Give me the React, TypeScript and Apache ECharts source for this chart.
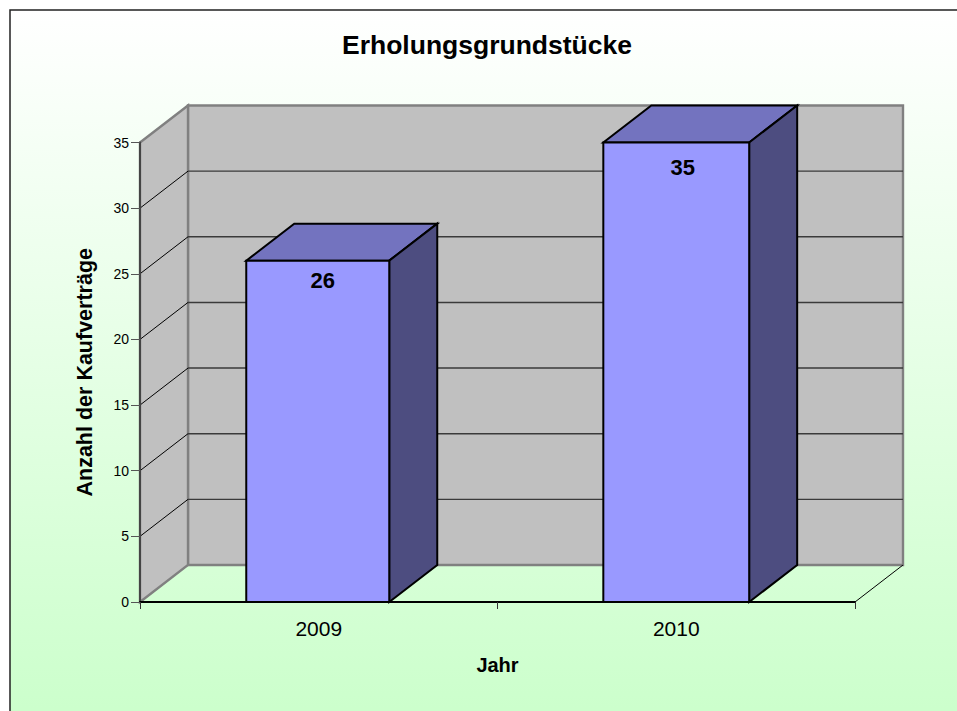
import React, { useEffect, useRef } from "react";
import * as echarts from "echarts";

const titleText = "Erholungsgrundstücke";
const yAxisName = "Anzahl der Kaufverträge";
const xAxisName = "Jahr";
const categories = ["2009", "2010"];
const values = [26, 35];
const yTicks = [5, 10, 15, 20, 25, 30, 35];
const yMax = 35;
const yStep = 5;

const DX = 48;
const DY = 37;
const FONT = '"Liberation Sans", Arial, sans-serif';
const BAR_RATIO = [0.4, 0.408];
const BAR_SHIFT = [-1, 0];
const LABEL_DX = [4, 6.5];
const LABEL_DY = [20, 25];

export default function App() {
  const ref = useRef<HTMLDivElement | null>(null);
  useEffect(() => {
    const chart = echarts.init(ref.current!, undefined, { renderer: "svg" });

    const wallItem = (p: any, api: any) => {
      const cs = p.coordSys;
      const xl = cs.x;
      const xr = cs.x + cs.width;
      const yb = api.coord([0, 0])[1];
      const yt = api.coord([0, yMax])[1];
      const wallStyle = { fill: "#C0C0C0", stroke: "#808080", lineWidth: 2.4 };
      return {
        type: "group",
        children: [
          {
            type: "polygon",
            shape: { points: [[xl + DX, yb - DY], [xr + DX, yb - DY], [xr + DX, yt - DY], [xl + DX, yt - DY]] },
            style: wallStyle,
          },
          {
            type: "polygon",
            shape: { points: [[xl, yt], [xl + DX, yt - DY], [xl + DX, yb - DY], [xl, yb]] },
            style: wallStyle,
          },
          { type: "line", shape: { x1: xr, y1: yb, x2: xr + DX, y2: yb - DY }, style: { stroke: "#000", lineWidth: 1 } },
        ],
      };
    };

    const gridItem = (p: any, api: any) => {
      const cs = p.coordSys;
      const v = api.value(1);
      const y = api.coord([0, v])[1];
      const xl = cs.x;
      const xr = cs.x + cs.width;
      const lines: any[] = [];
      if (v < yMax) {
        lines.push({ type: "line", shape: { x1: xl, y1: y, x2: xl + DX, y2: y - DY }, style: { stroke: "#000", lineWidth: 1 } });
        lines.push({ type: "line", shape: { x1: xl + DX, y1: y - DY, x2: xr + DX, y2: y - DY }, style: { stroke: "#3a3a3a", lineWidth: 1.4 } });
      }
      return { type: "group", children: lines };
    };

    const barItem = (_p: any, api: any) => {
      const i = api.value(0);
      const v = api.value(1);
      const top = api.coord([i, v]);
      const base = api.coord([i, 0]);
      const w = api.size([1, 0])[0] * BAR_RATIO[i];
      const cx = top[0] + BAR_SHIFT[i];
      const x0 = cx - w / 2;
      const x1 = cx + w / 2;
      const edge = { stroke: "#000", lineWidth: 2, lineJoin: "miter" };
      return {
        type: "group",
        children: [
          {
            type: "polygon",
            shape: { points: [[x0, top[1]], [x1, top[1]], [x1 + DX, top[1] - DY], [x0 + DX, top[1] - DY]] },
            style: { fill: "#7373BF", ...edge },
          },
          {
            type: "polygon",
            shape: { points: [[x1, top[1]], [x1 + DX, top[1] - DY], [x1 + DX, base[1] - DY], [x1, base[1]]] },
            style: { fill: "#4D4D80", ...edge },
          },
          {
            type: "rect",
            shape: { x: x0, y: top[1], width: w, height: base[1] - top[1] },
            style: { fill: "#9999FF", ...edge },
          },
          {
            type: "text",
            style: {
              text: String(v),
              x: top[0] + LABEL_DX[i],
              y: top[1] + LABEL_DY[i],
              align: "center",
              verticalAlign: "middle",
              fill: "#000",
              font: `bold 22px ${FONT}`,
            },
          },
        ],
      };
    };

    chart.setOption({
      animation: false,
      backgroundColor: "#FFFFFF",
      graphic: [
        {
          type: "rect",
          z: -10,
          silent: true,
          shape: { x: 10, y: 10, width: 960, height: 720 },
          style: {
            fill: {
              type: "linear",
              x: 0,
              y: 0,
              x2: 0,
              y2: 1,
              colorStops: [
                { offset: 0, color: "#FFFFFF" },
                { offset: 0.97, color: "#CCFFCC" },
                { offset: 1, color: "#CCFFCC" },
              ],
            },
            stroke: "#222222",
            lineWidth: 1.5,
          },
        },
      ],
      title: {
        text: titleText,
        left: 482,
        top: 26,
        textAlign: "center",
        textStyle: { fontFamily: FONT, fontWeight: "bold", fontSize: 26.5, color: "#000" },
      },
      grid: { left: 140, top: 142.5, width: 715, height: 459.5, containLabel: false },
      xAxis: {
        type: "category",
        data: categories,
        z: 4,
        name: xAxisName,
        nameLocation: "middle",
        nameGap: 53,
        nameTextStyle: { fontFamily: FONT, fontWeight: "bold", fontSize: 20, color: "#000" },
        axisLine: { show: true, lineStyle: { color: "#000", width: 2 } },
        axisTick: { show: true, length: 7, alignWithLabel: false, lineStyle: { color: "#333", width: 1 } },
        axisLabel: { margin: 16, fontFamily: FONT, fontSize: 21, color: "#000" },
        splitLine: { show: false },
      },
      yAxis: {
        type: "value",
        min: 0,
        max: yMax,
        interval: yStep,
        z: 4,
        name: yAxisName,
        nameLocation: "middle",
        nameGap: 44,
        nameRotate: 90,
        nameTextStyle: { fontFamily: FONT, fontWeight: "bold", fontSize: 21.5, color: "#000" },
        axisLine: { show: true, lineStyle: { color: "#444", width: 2 } },
        axisTick: { show: true, length: 9, lineStyle: { color: "#555", width: 1 } },
        axisLabel: { margin: 11, fontFamily: FONT, fontSize: 14, color: "#000", padding: [0, 0, 3, 0] },
        splitLine: { show: false },
      },
      series: [
        { type: "custom", z: 1, silent: true, clip: false, coordinateSystem: "cartesian2d", data: [[0, 0]], encode: { x: 0, y: 1 }, renderItem: wallItem },
        { type: "custom", z: 2, silent: true, clip: false, coordinateSystem: "cartesian2d", data: yTicks.map((t) => [0, t]), encode: { x: 0, y: 1 }, renderItem: gridItem },
        { type: "custom", z: 6, silent: true, clip: false, coordinateSystem: "cartesian2d", data: categories.map((_c, i) => [i, values[i]]), encode: { x: 0, y: 1 }, renderItem: barItem },
      ],
    });
    return () => chart.dispose();
  }, []);
  return <div ref={ref} style={{ position: "absolute", left: 0, top: 0, width: 957, height: 711 }} />;
}
